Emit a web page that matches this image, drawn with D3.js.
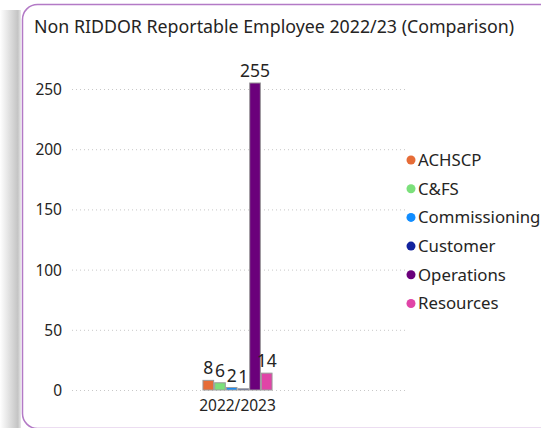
<!DOCTYPE html>
<html><head><meta charset="utf-8">
<script src="https://cdn.jsdelivr.net/npm/d3@7"></script>
<style>
html,body{margin:0;padding:0;background:#fff;}
svg{display:block;font-family:"Noto Sans","Open Sans",sans-serif;}
</style></head>
<body>
<svg id="c" width="541" height="428"></svg>
<script>
const title = "Non RIDDOR Reportable Employee 2022/23 (Comparison)";
const categories = ["2022/2023"];
const seriesNames = ["ACHSCP","C&FS","Commissioning","Customer","Operations","Resources"];
const seriesValues = [8, 6, 2, 1, 255, 14];
const seriesColors = ["#E66C37","#7BE07B","#118DFF","#12239E","#6B007B","#E044A7"];
const yTicks = [0, 50, 100, 150, 200, 250];

const svg = d3.select("#c");
const defs = svg.append("defs");
const grad = defs.append("linearGradient").attr("id","sh").attr("x1","0").attr("x2","1");
grad.append("stop").attr("offset","0").attr("stop-color","#ffffff");
grad.append("stop").attr("offset","0.85").attr("stop-color","#c4c4c4");
grad.append("stop").attr("offset","1").attr("stop-color","#e8e8e8");
svg.append("rect").attr("x",0).attr("y",10).attr("width",21).attr("height",418).attr("fill","url(#sh)");

svg.append("rect").attr("x",22.5).attr("y",4.5).attr("width",620).attr("height",424)
  .attr("rx",15).attr("fill","#fff").attr("stroke","#b37ac6").attr("stroke-width",1.5);

svg.append("text").attr("x",34).attr("y",33).attr("font-size",17.8).attr("fill","#252423").text(title);

const y = d3.scaleLinear().domain([0, 250]).range([390, 89]);
const x0 = d3.scaleBand().domain(categories).range([70, 405]).paddingInner(0).paddingOuter(1.89);
const x1 = d3.scaleBand().domain(seriesNames).range([0, x0.bandwidth()]).padding(0);

// gridlines
const g = svg.append("g");
g.selectAll("line.grid").data(yTicks).join("line")
  .attr("x1",72).attr("x2",405).attr("y1",d=>y(d)+0.5).attr("y2",d=>y(d)+0.5)
  .attr("stroke","#c8c8c8").attr("stroke-width",1).attr("stroke-dasharray","1,3");

// y axis
const yAxis = d3.axisLeft(y).tickValues(yTicks).tickSize(0).tickPadding(0);
const ya = svg.append("g").attr("transform","translate(62,0)").call(yAxis);
ya.select(".domain").remove();
ya.selectAll("text").attr("font-size",15.5).attr("fill","#252423").attr("font-family","Noto Sans, Open Sans, sans-serif").attr("dy","0.35em");

// x axis
const xAxis = d3.axisBottom(x0).tickSize(0).tickPadding(0);
const xa = svg.append("g").attr("transform","translate(0,398)").call(xAxis);
xa.select(".domain").remove();
xa.selectAll("text").attr("font-size",15.5).attr("fill","#252423").attr("font-family","Noto Sans, Open Sans, sans-serif").attr("dy","0.85em");

// bars
const data = seriesNames.map((n,i)=>({cat:categories[0], name:n, value:seriesValues[i], color:seriesColors[i]}));
const bars = svg.append("g");
bars.selectAll("rect").data(data).join("rect")
  .attr("x", d=>x0(d.cat)+x1(d.name)+0.5)
  .attr("y", d=>y(d.value))
  .attr("width", x1.bandwidth()-1)
  .attr("height", d=>y(0)-y(d.value))
  .attr("fill", d=>d.color)
  .attr("stroke","#9a9a9a").attr("stroke-width",1);

bars.selectAll("text").data(data).join("text")
  .attr("x", d=>x0(d.cat)+x1(d.name)+x1.bandwidth()/2)
  .attr("y", d=>y(d.value)-6)
  .attr("text-anchor","middle").attr("font-size",17.5).attr("fill","#252423")
  .text(d=>d.value);

// legend
const leg = svg.append("g");
const lg = leg.selectAll("g").data(data).join("g")
  .attr("transform",(d,i)=>`translate(411,${160 + i*28.7})`);
lg.append("circle").attr("r",4.5).attr("cx",0).attr("cy",0).attr("fill",d=>d.color);
lg.append("text").attr("x",7).attr("y",0).attr("dy","0.35em").attr("font-size",16.8).attr("fill","#252423").text(d=>d.name);
</script>
</body></html>
